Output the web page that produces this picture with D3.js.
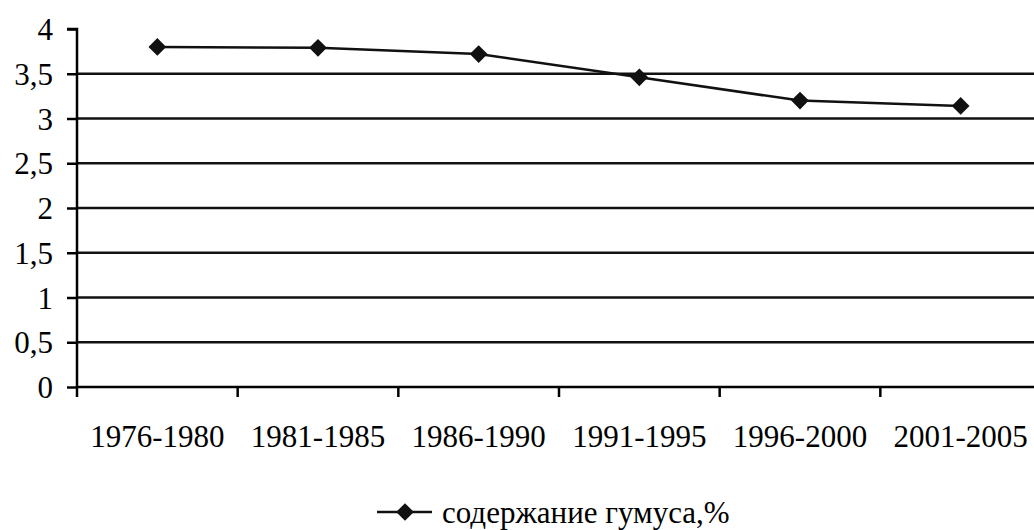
<!DOCTYPE html>
<html>
<head>
<meta charset="utf-8">
<script src="https://cdn.jsdelivr.net/npm/d3@7"></script>
<style>
  body { margin: 0; background: #fff; }
  svg text { font-family: "Liberation Serif", "Times New Roman", serif; fill: #000; }
</style>
</head>
<body>
<div id="chart"></div>
<script>
// Humus content by five-year period
const periods = ['1976-1980', '1981-1985', '1986-1990', '1991-1995', '1996-2000', '2001-2005'];
const humus = [3.80, 3.79, 3.72, 3.46, 3.20, 3.14];
const yTicks = [0, 0.5, 1, 1.5, 2, 2.5, 3, 3.5, 4];
const seriesName = 'содержание гумуса,%';

const width = 1034, height = 530;
const m = { top: 29, right: -7, bottom: 143, left: 77 };
const innerW = width - m.left - m.right;
const innerH = height - m.top - m.bottom;

const svg = d3.select('#chart').append('svg').attr('width', width).attr('height', height);
const g = svg.append('g').attr('transform', `translate(${m.left},${m.top})`);

const x = d3.scaleBand().domain(periods).range([0, innerW]);
const y = d3.scaleLinear().domain([0, 4]).range([innerH, 0]);

// Horizontal gridlines (not at the top value)
g.selectAll('line.grid')
  .data(yTicks.filter(t => t > 0 && t < 4))
  .enter().append('line')
  .attr('x1', 0).attr('x2', innerW)
  .attr('y1', d => y(d)).attr('y2', d => y(d))
  .attr('stroke', '#111').attr('stroke-width', 2.5);

const fmt = d => String(d).replace('.', ',');

const yAxis = g.append('g')
  .call(d3.axisLeft(y).tickValues(yTicks).tickFormat(fmt).tickSize(10).tickPadding(14));
yAxis.select('.domain').attr('stroke', '#000').attr('stroke-width', 2.5).attr('d', `M-10,0H0V${innerH}`);
yAxis.selectAll('.tick line').attr('stroke', '#000').attr('stroke-width', 2.5);
yAxis.selectAll('text').style('font-size', '31px').attr('dy', '0.34em');

// Category boundaries as tick marks
const bounds = periods.map(p => x(p)).concat([x.range()[1]]);
const xAxis = g.append('g').attr('transform', `translate(0,${innerH})`);
xAxis.append('line').attr('x1', 0).attr('x2', innerW).attr('stroke', '#000').attr('stroke-width', 2.5);
xAxis.selectAll('line.tk').data(bounds).enter().append('line')
  .attr('x1', d => d).attr('x2', d => d).attr('y1', 0).attr('y2', 10)
  .attr('stroke', '#000').attr('stroke-width', 2.5);
xAxis.selectAll('text').data(periods).enter().append('text')
  .attr('x', d => x(d) + x.bandwidth() / 2)
  .attr('y', 60)
  .attr('text-anchor', 'middle')
  .style('font-size', '31px')
  .text(d => d);

const cx = (d, i) => x(periods[i]) + x.bandwidth() / 2;

g.append('path')
  .datum(humus)
  .attr('fill', 'none').attr('stroke', '#111').attr('stroke-width', 2.5)
  .attr('d', d3.line().x(cx).y(d => y(d)));

const diamond = d3.symbol().type(d3.symbolDiamond2).size(200);
g.selectAll('path.pt').data(humus).enter().append('path')
  .attr('transform', (d, i) => `translate(${cx(d, i)},${y(d)})`)
  .attr('d', diamond)
  .attr('fill', '#111');

// Legend
const lg = svg.append('g').attr('transform', 'translate(377,512)');
lg.append('line').attr('x1', 0).attr('x2', 55).attr('stroke', '#111').attr('stroke-width', 2.5);
lg.append('path').attr('transform', 'translate(28,0)').attr('d', diamond).attr('fill', '#111');
lg.append('text').attr('x', 65).attr('y', 11).style('font-size', '31px').text(seriesName);
</script>
</body>
</html>
